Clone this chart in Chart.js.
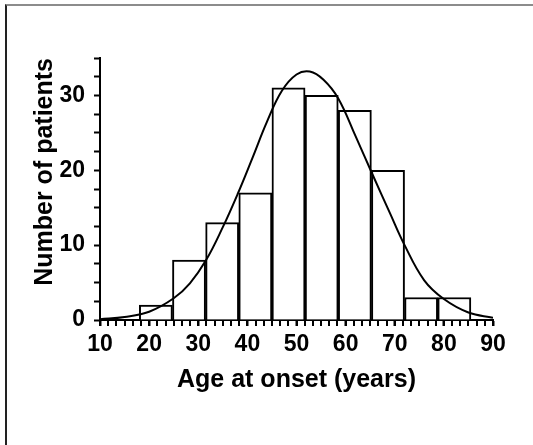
<!DOCTYPE html>
<html>
<head>
<meta charset="utf-8">
<script src="https://cdn.jsdelivr.net/npm/chart.js@4/dist/chart.umd.min.js"></script>
<style>
  html, body { margin: 0; padding: 0; background: #fff; }
  #wrap { position: relative; width: 533px; height: 445px; overflow: hidden; }
  #frame {
    position: absolute; left: 5px; top: 4px; right: 0; bottom: 0;
    border-top: 2px solid #8c8c8c; border-left: 2px solid #222;
  }
  #chart { position: absolute; left: 0; top: 0; }
</style>
</head>
<body>
<div id="wrap">
  <div id="frame"></div>
  <canvas id="chart" width="533" height="445"></canvas>
</div>
<script>
// histogram bins (mid-age of each bin) and patient counts
const binMids = [21.375, 28.125, 34.875, 41.625, 48.375, 55.125, 61.875, 68.625, 75.375, 82.125];
const counts = [2, 8, 13, 17, 31, 30, 28, 20, 3, 3];

// fitted curve
const curveAge = [10, 15, 20, 25, 28.3, 31.6, 35, 38, 41, 44, 47, 50, 52.7, 55.5, 58.5, 62, 65.5, 69, 72, 76, 80, 85, 90];
const curveVal = [0.1, 0.4, 1.1, 2.9, 4.9, 8, 12.4, 16.8, 21.6, 26.5, 30.6, 32.8, 33.2, 32.1, 29.6, 24.6, 19.4, 14.3, 10, 5.3, 2.8, 1, 0.3];

const xMinorStep = 10 / 6;

const minorTicks = {
  id: "minorTicks",
  afterDraw(chart) {
    const { ctx } = chart;
    const x = chart.scales.x;
    ctx.save();
    ctx.strokeStyle = "#000";
    ctx.lineWidth = 2;
    for (let i = 0; i <= 48; i++) {
      const px = Math.round(x.getPixelForValue(10 + i * xMinorStep));
      ctx.beginPath();
      ctx.moveTo(px, x.top);
      ctx.lineTo(px, x.top + 6);
      ctx.stroke();
    }
    ctx.restore();
  },
};

const boldFont = (size) => ({ family: "'Liberation Sans', Arial, sans-serif", size, weight: "bold" });

new Chart(document.getElementById("chart").getContext("2d"), {
  type: "bar",
  data: {
    datasets: [
      {
        type: "line",
        data: curveAge.map((x, i) => ({ x, y: curveVal[i] })),
        borderColor: "#000",
        borderWidth: 2,
        pointRadius: 0,
        tension: 0.4,
        fill: false,
        order: 0,
      },
      {
        data: binMids.map((x, i) => ({ x, y: counts[i] })),
        backgroundColor: "#fff",
        borderColor: "#000",
        borderWidth: { top: 2, left: 2, right: 2, bottom: 0 },
        borderSkipped: false,
        barPercentage: 1,
        categoryPercentage: 1,
        order: 1,
      },
    ],
  },
  options: {
    responsive: false,
    animation: false,
    layout: { padding: { top: 58, right: 40, bottom: 0, left: 0 } },
    plugins: { legend: { display: false }, tooltip: { enabled: false } },
    scales: {
      x: {
        type: "linear",
        min: 10,
        max: 90,
        offset: false,
        afterFit: (s) => { s.height = 125; },
        grid: { display: true, offset: false, drawOnChartArea: false, tickLength: 6, tickWidth: 2, tickColor: "#000" },
        border: { color: "#000", width: 2 },
        ticks: { stepSize: 10, padding: 5, color: "#000", font: boldFont(23), maxRotation: 0 },
        title: {
          display: true,
          text: "Age at onset (years)",
          color: "#000",
          font: boldFont(25),
          padding: { top: 0, bottom: 50 },
        },
      },
      y: {
        min: 0,
        max: 35,
        afterFit: (s) => { s.width = 100; },
        grid: { drawOnChartArea: false, tickLength: 6, tickWidth: 2, tickColor: "#000" },
        border: { color: "#000", width: 2 },
        ticks: {
          stepSize: 2.5,
          autoSkip: false,
          padding: 9,
          color: "#000",
          font: boldFont(23),
          callback: (v) => (v % 10 === 0 ? v : ""),
        },
        title: {
          display: true,
          text: "Number of patients",
          align: "end",
          color: "#000",
          font: boldFont(25),
          padding: { top: 30, bottom: 0 },
        },
      },
    },
  },
  plugins: [minorTicks],
});
</script>
</body>
</html>
